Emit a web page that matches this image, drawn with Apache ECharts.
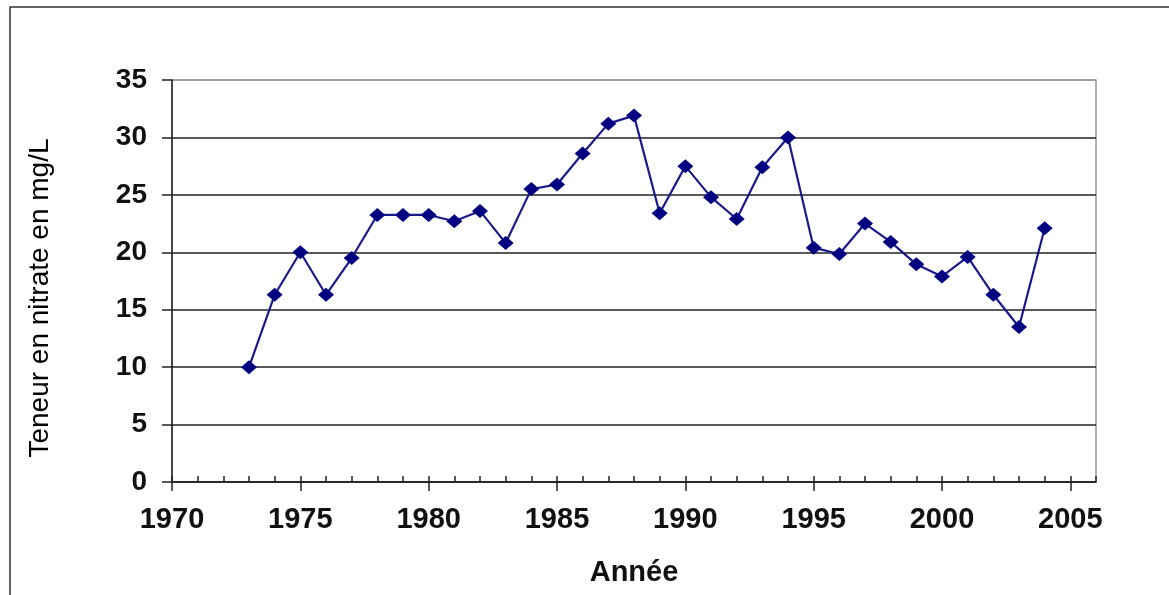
<!DOCTYPE html>
<html>
<head>
<meta charset="utf-8">
<script src="https://cdn.jsdelivr.net/npm/echarts@6/dist/echarts.min.js"></script>
<style>
html,body{margin:0;padding:0;background:#fff;}
#c{width:1169px;height:595px;}
</style>
</head>
<body>
<div id="c"></div>
<script>
var years = [1973,1974,1975,1976,1977,1978,1979,1980,1981,1982,1983,1984,1985,1986,1987,1988,1989,1990,1991,1992,1993,1994,1995,1996,1997,1998,1999,2000,2001,2002,2003,2004];
var nitrate = [10,16.3,20,16.3,19.5,23.25,23.25,23.25,22.7,23.6,20.8,25.5,25.9,28.6,31.2,31.9,23.4,27.5,24.8,22.9,27.4,30,20.4,19.85,22.5,20.9,18.95,17.9,19.6,16.3,13.5,22.1];
var xTickLabels = [1970,1975,1980,1985,1990,1995,2000,2005];
var yTickLabels = [0,5,10,15,20,25,30,35];
var yName = 'Teneur en nitrate en mg/L';
var xName = 'Année';

var chart = echarts.init(document.getElementById('c'));
var gridPos = {left:172, right:73, top:80, bottom:113};
var font = '"Liberation Sans", Arial, sans-serif';
var data = years.map(function(y,i){return [y, nitrate[i]];});

chart.setOption({
  animation:false,
  backgroundColor:'#fff',
  graphic:[
    {type:'rect', shape:{x:10, y:7, width:1200, height:620}, style:{fill:'none', stroke:'#333', lineWidth:1.5}, z:-1},
    {type:'text', x:40, y:298, rotation:Math.PI/2, style:{text:yName, font:'28px ' + font, fill:'#000', align:'center', verticalAlign:'middle'}}
  ],
  grid:[
    Object.assign({show:true, borderColor:'#999', borderWidth:1.5, backgroundColor:'transparent'}, gridPos),
    Object.assign({}, gridPos)
  ],
  xAxis:[
    {
      type:'value', gridIndex:0, min:1970, max:2006, interval:5,
      axisLine:{show:true, lineStyle:{color:'#222', width:1.5}},
      axisTick:{show:true, inside:false, length:9, lineStyle:{color:'#222', width:1.5}, customValues:xTickLabels},
      axisLabel:{show:true, margin:23, customValues:xTickLabels, color:'#111', fontSize:29, fontWeight:'bold', fontFamily:font, formatter:function(v){return String(v);}},
      splitLine:{show:false},
      name:xName, nameLocation:'middle', nameGap:76,
      nameTextStyle:{color:'#111', fontSize:29, fontWeight:'bold', fontFamily:font}
    },
    {
      type:'value', gridIndex:1, min:1970, max:2006, interval:1,
      axisLine:{show:false},
      axisTick:{show:true, inside:true, length:6, lineStyle:{color:'#222', width:1.5}},
      axisLabel:{show:false},
      splitLine:{show:false}
    }
  ],
  yAxis:[
    {
      type:'value', gridIndex:0, min:0, max:35, interval:5,
      axisLine:{show:true, lineStyle:{color:'#222', width:1.5}},
      axisTick:{show:true, inside:false, length:10, lineStyle:{color:'#222', width:1.5}},
      axisLabel:{margin:25, color:'#111', fontSize:28, fontWeight:'bold', fontFamily:font, customValues:yTickLabels},
      splitLine:{show:true, lineStyle:{color:['#222','#222','#222','#222','#222','#222','#222','#999'], width:1.5}}
    },
    {
      type:'value', gridIndex:1, min:0, max:35, show:false
    }
  ],
  series:[
    {
      type:'line', xAxisIndex:0, yAxisIndex:0, data:data,
      symbol:'diamond', symbolSize:[16,14],
      lineStyle:{color:'#1a1a8a', width:2.2},
      itemStyle:{color:'#000080'},
      z:5
    }
  ]
});
</script>
</body>
</html>
